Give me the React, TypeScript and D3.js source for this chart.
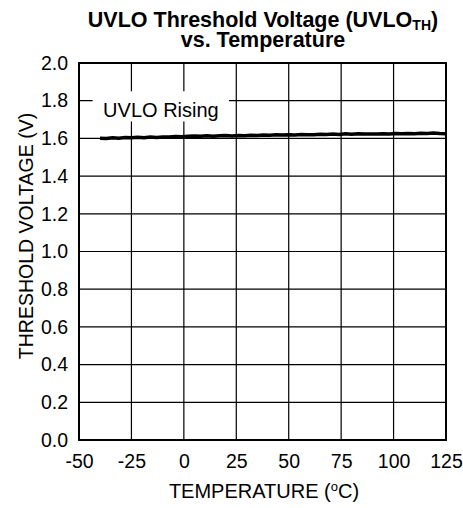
import { useEffect, useRef } from "react";
import * as d3 from "d3";

const WIDTH = 463;
const HEIGHT = 508;
const MARGIN = { top: 63, right: 17, bottom: 68, left: 79 };
const FONT = "'Liberation Sans', Arial, sans-serif";

const xTicks = [-50, -25, 0, 25, 50, 75, 100, 125];
const yTicks = [0, 0.2, 0.4, 0.6, 0.8, 1.0, 1.2, 1.4, 1.6, 1.8, 2.0];

const temperature = [
  -40, -37, -34, -31, -28, -25, -22, -19, -16, -13, -10, -7, -4, -1, 2, 5, 8, 11, 14, 17, 20,
  23, 26, 29, 32, 35, 38, 41, 44, 47, 50, 53, 56, 59, 62, 65, 68, 71, 74, 77, 80, 83, 86, 89,
  92, 95, 98, 101, 104, 107, 110, 113, 116, 119, 122, 125,
];
const uvloRising = [
  1.601, 1.6, 1.604, 1.601, 1.605, 1.603, 1.606, 1.604, 1.607, 1.605, 1.608, 1.607, 1.61, 1.609,
  1.612, 1.613, 1.611, 1.614, 1.612, 1.614, 1.615, 1.613, 1.616, 1.614, 1.617, 1.615, 1.618,
  1.617, 1.619, 1.618, 1.62, 1.618, 1.621, 1.619, 1.62, 1.622, 1.621, 1.623, 1.621, 1.625,
  1.622, 1.624, 1.623, 1.624, 1.623, 1.625, 1.624, 1.626, 1.625, 1.626, 1.625, 1.627, 1.626,
  1.628, 1.626, 1.625,
];

export default function App() {
  const axesRef = useRef(null);
  const boundsWidth = WIDTH - MARGIN.left - MARGIN.right;
  const boundsHeight = HEIGHT - MARGIN.top - MARGIN.bottom;

  const xScale = d3.scaleLinear().domain([-50, 125]).range([0, boundsWidth]);
  const yScale = d3.scaleLinear().domain([0, 2]).range([boundsHeight, 0]);

  useEffect(() => {
    const g = d3.select(axesRef.current);
    g.selectAll("*").remove();

    // grid
    g.selectAll(".vgrid")
      .data(xTicks)
      .join("line")
      .attr("x1", (d) => xScale(d))
      .attr("x2", (d) => xScale(d))
      .attr("y1", 0)
      .attr("y2", boundsHeight)
      .attr("stroke", "#000")
      .attr("stroke-width", 1.2);
    g.selectAll(".hgrid")
      .data(yTicks)
      .join("line")
      .attr("x1", 0)
      .attr("x2", boundsWidth)
      .attr("y1", (d) => yScale(d))
      .attr("y2", (d) => yScale(d))
      .attr("stroke", "#000")
      .attr("stroke-width", 1.2);

    // label box hides the grid behind it
    g.append("rect")
      .attr("x", xScale(-43.5))
      .attr("y", yScale(1.85))
      .attr("width", xScale(21.5) - xScale(-43.5))
      .attr("height", yScale(1.69) - yScale(1.85))
      .attr("fill", "#fff");
    g.append("text")
      .attr("x", xScale(-38.5))
      .attr("y", yScale(1.715))
      .attr("font-family", FONT)
      .attr("font-size", 20)
      .text("UVLO Rising");

    const line = d3
      .line<number>()
      .x((_, i) => xScale(temperature[i]))
      .y((d) => yScale(d));
    g.append("path")
      .datum(uvloRising)
      .attr("d", line)
      .attr("fill", "none")
      .attr("stroke", "#000")
      .attr("stroke-width", 3.5);

    g.append("rect")
      .attr("width", boundsWidth)
      .attr("height", boundsHeight)
      .attr("fill", "none")
      .attr("stroke", "#000")
      .attr("stroke-width", 2);

    const xAxis = g
      .append("g")
      .attr("transform", `translate(0,${boundsHeight})`)
      .call(
        d3.axisBottom(xScale).tickValues(xTicks).tickSize(0).tickPadding(14).tickFormat((d) => String(d))
      );
    xAxis.select(".domain").remove();
    xAxis.selectAll("text").attr("font-family", FONT).attr("font-size", 19.5).attr("fill", "#000");

    const yAxis = g
      .append("g")
      .call(d3.axisLeft(yScale).tickValues(yTicks).tickSize(0).tickPadding(11).tickFormat(d3.format(".1f")));
    yAxis.select(".domain").remove();
    yAxis.selectAll("text").attr("font-family", FONT).attr("font-size", 19.5).attr("fill", "#000");
  }, []);

  return (
    <svg
      width={WIDTH}
      height={HEIGHT}
      style={{ position: "absolute", left: 0, top: 0, overflow: "visible" }}
    >
      <rect width={WIDTH} height={HEIGHT} fill="#fff" />
      <text x={263} y={27} textAnchor="middle" fontFamily={FONT} fontWeight="bold" fontSize={21.5}>
        UVLO Threshold Voltage (UVLO
        <tspan fontSize={14} dy={3}>TH</tspan>
        <tspan dy={-3}>)</tspan>
      </text>
      <text x={263} y={47} textAnchor="middle" fontFamily={FONT} fontWeight="bold" fontSize={21.5}>
        vs. Temperature
      </text>
      <text x={264} y={498} textAnchor="middle" fontFamily={FONT} fontSize={20}>
        TEMPERATURE (
        <tspan fontSize={13} dy={-7}>o</tspan>
        <tspan dy={7}>C)</tspan>
      </text>
      <text
        transform={`translate(33,236) rotate(-90)`}
        textAnchor="middle"
        fontFamily={FONT}
        fontSize={19.5}
      >
        THRESHOLD VOLTAGE (V)
      </text>
      <g ref={axesRef} transform={`translate(${MARGIN.left},${MARGIN.top})`} />
    </svg>
  );
}
